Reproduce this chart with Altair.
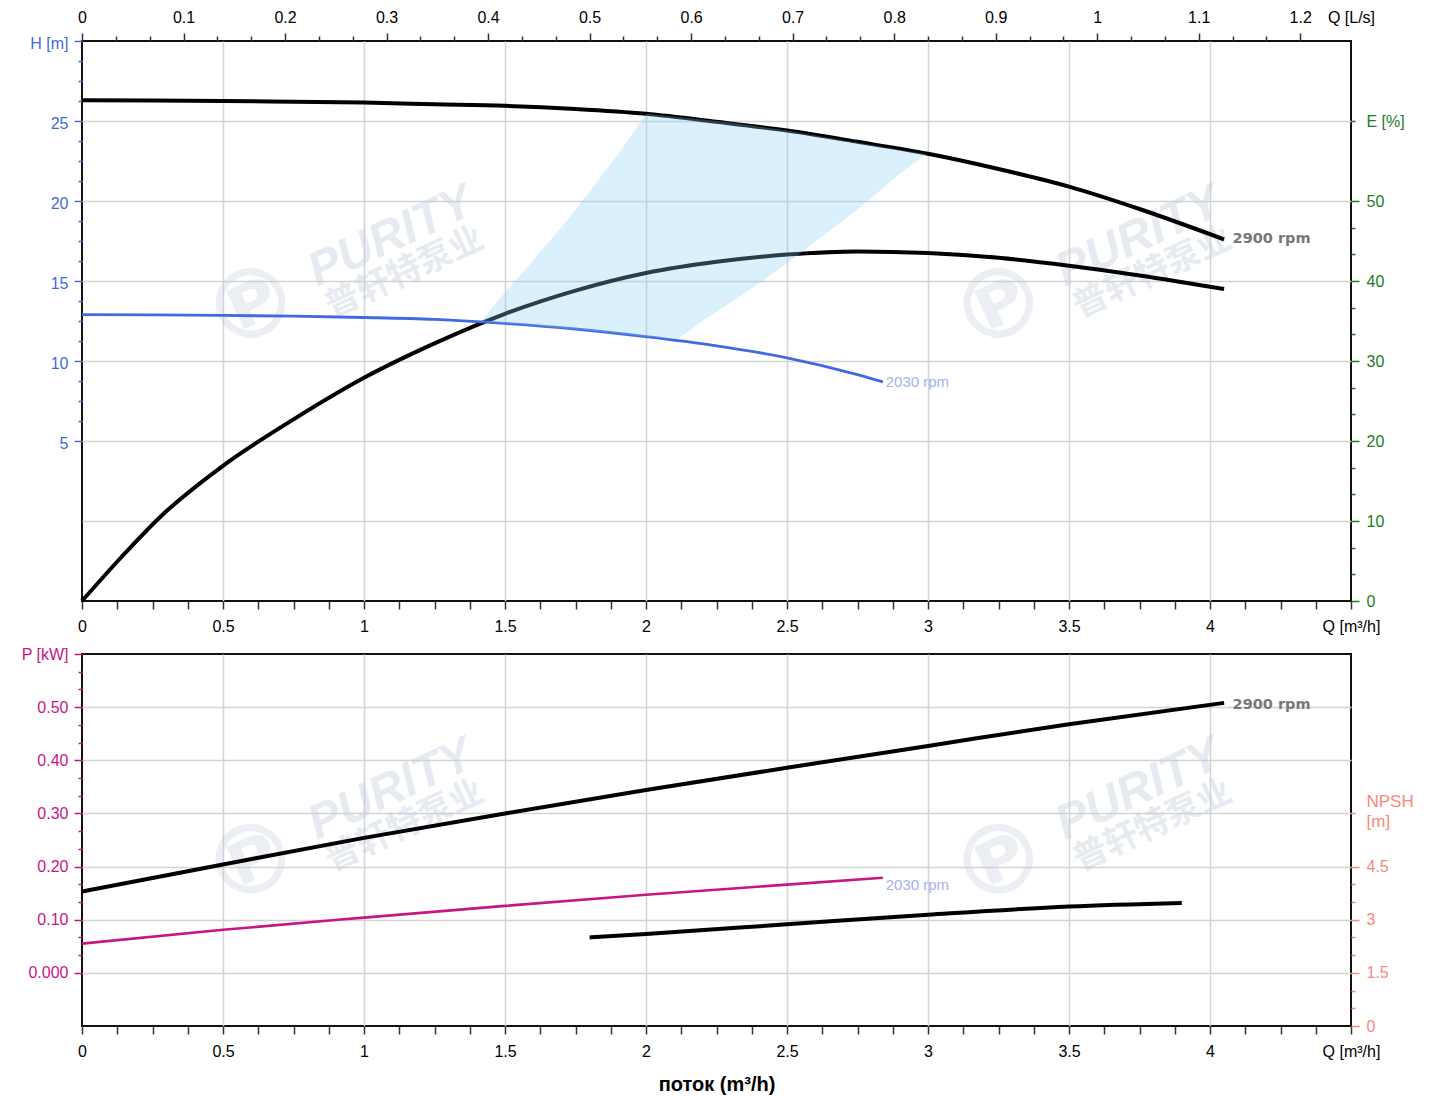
import altair as alt
import pandas as pd

# ---------------- values ----------------
# head curves, H [m] against Q [m3/h]
q_h2900 = [0, 0.25, 0.5, 0.75, 1.0, 1.25, 1.5, 1.75, 2.0, 2.25, 2.5, 2.75, 3.0, 3.25, 3.5, 3.75, 4.05]
h_2900 = [26.3, 26.28, 26.25, 26.2, 26.15, 26.05, 25.95, 25.75, 25.45, 24.95, 24.4, 23.7, 22.95, 22.0, 20.9, 19.5, 17.6]

q_h2030 = [0, 0.25, 0.5, 0.75, 1.0, 1.25, 1.5, 1.75, 2.0, 2.25, 2.5, 2.75, 2.84]
h_2030 = [12.9, 12.88, 12.85, 12.8, 12.72, 12.6, 12.35, 12.0, 11.52, 10.95, 10.2, 9.15, 8.7]

# efficiency E [%]
q_eff = [0, 0.14, 0.28, 0.5, 0.75, 1.0, 1.25, 1.5, 1.75, 2.0, 2.25, 2.5, 2.75, 3.0, 3.25, 3.5, 3.75, 4.05]
eff = [0, 5.5, 10.6, 16.9, 22.7, 27.9, 32.2, 35.9, 38.8, 41.0, 42.4, 43.3, 43.7, 43.5, 42.9, 41.9, 40.7, 39.0]

# shaded operating range (upper / lower edge, H [m])
area_q = [1.415, 1.5, 1.6, 1.7, 1.8, 1.9, 2.0, 2.112, 2.2, 2.3, 2.4, 2.5, 2.6, 2.7, 2.8, 2.9, 2.993]
area_hi = [12.5, 14.3, 16.3, 18.35, 20.6, 22.9, 25.45, 25.25, 25.1, 24.9, 24.65, 24.4, 24.1, 23.8, 23.5, 23.2, 22.92]
area_lo = [12.5, 12.35, 12.22, 12.06, 11.9, 11.72, 11.52, 11.36, 12.5, 13.65, 14.85, 16.1, 17.45, 18.8, 20.2, 21.7, 22.92]

# power P [kW]
q_p2900 = [0, 0.5, 1.0, 1.5, 2.0, 2.5, 3.0, 3.5, 4.05]
p_2900 = [0.153, 0.204, 0.254, 0.300, 0.344, 0.386, 0.427, 0.468, 0.508]
q_p2030 = [0, 0.5, 1.0, 1.5, 2.0, 2.5, 2.84]
p_2030 = [0.055, 0.081, 0.104, 0.126, 0.147, 0.166, 0.179]

# NPSH [m]
q_npsh = [1.8, 2.0, 2.5, 3.0, 3.5, 3.9]
npsh = [2.5, 2.6, 2.87, 3.14, 3.37, 3.47]

# curve labels
lab_top_q = [4.08, 2.85]
lab_top_v = [17.6, 8.7]
lab_bot_q = [4.08, 2.85]
lab_bot_v = [0.504, 0.166]
lab_text = ["2900 rpm", "2030 rpm"]

# watermark
wm_text = ["PURITY", "普轩特泵业", "℗"]
wm_top_q = [[1.096, 3.748], [1.145, 3.797], [0.606, 3.258]]
wm_top_v = [[17.75, 17.75], [15.5, 15.5], [13.3, 13.3]]
wm_bot_v = [[0.344, 0.344], [0.276, 0.276], [0.205, 0.205]]

# axis tick labels
x_major = [0, 0.5, 1, 1.5, 2, 2.5, 3, 3.5, 4, 4.5]
ls_major = [0, 0.1, 0.2, 0.3, 0.4, 0.5, 0.6, 0.7, 0.8, 0.9, 1.0, 1.1, 1.2]
h_major = [5, 10, 15, 20, 25, 30]
e_major = [0, 10, 20, 30, 40, 50]
p_major = [0, 0.1, 0.2, 0.3, 0.4, 0.5, 0.6]
n_major = [0, 1.5, 3, 4.5]

# ---------------- styling ----------------
FONT = "Liberation Sans"
BLUE = "#4169e1"
GREEN = "#1e7d1e"
MAG = "#c71585"
SAL = "#f8877c"
GRID = "#d3d3d3"
TICK = "#333333"

W, H_TOP, H_BOT = 1269, 560, 372
H_DOM, E_DOM, P_DOM, N_DOM = [-5, 30], [0, 70], [-0.1, 0.6], [0, 10.5]
XS = alt.Scale(domain=[0, 4.5], nice=False, zero=False)


def ysc(dom):
    return alt.Scale(domain=dom, nice=False, zero=False)


def ax(orient, values, size=8, color=TICK, lab_color="black", expr=None,
       labels=True, ticks=True, grid=False, pad=6, tick_op=1.0, ext=0, fmt=".1~f", **kw):
    d = dict(orient=orient, values=values, domain=False, grid=grid, ticks=ticks,
             labels=labels, tickSize=size, tickColor=color, tickWidth=1.5,
             tickOpacity=tick_op, labelFont=FONT, labelFontSize=16,
             labelColor=lab_color, labelPadding=pad, labelFlush=False,
             labelOverlap=False, gridColor=GRID, gridWidth=1.5, format=fmt,
             minExtent=ext)
    if expr is not None:
        d["labelExpr"] = expr
    if "title" not in kw:
        d["title"] = None
    d.update(kw)
    return alt.Axis(**d)


dummy = pd.DataFrame({"q": [0.0], "v": [0.0]})


def axis_layer(xaxis, yaxis, ydom):
    return alt.Chart(dummy).mark_point(opacity=0).encode(
        x=alt.X("q:Q", scale=XS, axis=xaxis),
        y=alt.Y("v:Q", scale=ysc(ydom), axis=yaxis),
    )


def line(q, v, dom, color, width):
    df = pd.DataFrame({"q": q, "v": v})
    return alt.Chart(df).mark_line(color=color, strokeWidth=width, interpolate="monotone").encode(
        x=alt.X("q:Q", scale=XS, axis=None),
        y=alt.Y("v:Q", scale=ysc(dom), axis=None),
    )


def text_layer(q, v, texts, dom, **mark):
    df = pd.DataFrame({"q": q, "v": v, "t": texts})
    return alt.Chart(df).mark_text(**mark).encode(
        x=alt.X("q:Q", scale=XS, axis=None),
        y=alt.Y("v:Q", scale=ysc(dom), axis=None),
        text="t:N",
    )


def watermark(qs, vs, dom):
    a = text_layer(qs[0], vs[0], [wm_text[0]] * 2, dom, font=FONT, fontSize=48,
                   fontWeight="bold", fontStyle="italic", angle=335, color="#c3cee0",
                   opacity=0.4, align="center", baseline="middle")
    b = text_layer(qs[1], vs[1], [wm_text[1]] * 2, dom, font="Noto Sans CJK SC",
                   fontSize=34, fontWeight="bold", angle=335, color="#c3cee0",
                   opacity=0.4, align="center", baseline="middle")
    c = text_layer(qs[2], vs[2], [wm_text[2]] * 2, dom, font="DejaVu Sans",
                   fontSize=96, fontWeight="bold", angle=335, color="#c3cee0",
                   opacity=0.32, align="center", baseline="middle")
    return [a, b, c]


# tick position lists (axis configuration)
x_minor = [round(k * 0.125, 4) for k in range(37) if k % 4 != 0]
x_grid = [0.5, 1, 1.5, 2, 2.5, 3, 3.5, 4]
ls_major_pos = [round(v * 3.6, 6) for v in ls_major]
ls_minor_pos = [round(k * 0.12, 6) for k in range(37) if k % 3 != 0]
h_minor = [round(5 + k * 1.25, 4) for k in range(21) if k % 4 != 0]
h_grid = [0, 5, 10, 15, 20, 25]
e_minor = [round(k * 10 / 3, 4) for k in range(16) if k % 3 != 0] + [60]
p_minor = [round(k / 30, 5) for k in range(19) if k % 3 != 0]
p_grid = [0, 0.1, 0.2, 0.3, 0.4, 0.5]
n_minor = [0.5, 1.0, 2.0, 2.5, 3.5, 4.0, 6]

LEFT_EXT = 68

# ---------------- top panel ----------------
top_layers = watermark(wm_top_q, wm_top_v, H_DOM) + [
    line(q_eff, eff, E_DOM, "black", 4),
    line(q_h2900, h_2900, H_DOM, "black", 4),
    line(q_h2030, h_2030, H_DOM, BLUE, 2.8),
    alt.Chart(pd.DataFrame({"q": area_q, "hi": area_hi, "lo": area_lo})).mark_area(
        color="#87cefa", opacity=0.3).encode(
        x=alt.X("q:Q", scale=XS, axis=None),
        y=alt.Y("hi:Q", scale=ysc(H_DOM), axis=None),
        y2="lo:Q"),
    text_layer(lab_top_q[:1], lab_top_v[:1], lab_text[:1], H_DOM, font="DejaVu Sans",
               fontSize=14.5, fontWeight="bold", color="#777777", align="left", baseline="middle"),
    text_layer(lab_top_q[1:], lab_top_v[1:], lab_text[1:], H_DOM, font=FONT,
               fontSize=15, color="#a3b1f0", align="left", baseline="middle"),
    axis_layer(ax("bottom", x_major, pad=9, expr="datum.value == 4.5 ? 'Q [m³/h]' : datum.label"),
               ax("left", h_major, color=BLUE, lab_color=BLUE, ext=LEFT_EXT, fmt=".0f",
                  labelOffset=2, expr="datum.value == 30 ? 'H [m]' : datum.label"), H_DOM),
    axis_layer(ax("bottom", x_minor, labels=False),
               ax("left", h_minor, size=4, color=BLUE, labels=False, ext=LEFT_EXT), H_DOM),
    axis_layer(ax("bottom", x_grid, labels=False, ticks=False, grid=True),
               ax("left", h_grid, labels=False, ticks=False, grid=True, ext=LEFT_EXT), H_DOM),
    axis_layer(ax("top", ls_major_pos, pad=8, expr="format(datum.value / 3.6, '~g')"),
               ax("right", e_major, color=GREEN, lab_color=GREEN, pad=7, fmt=".0f"), E_DOM),
    axis_layer(ax("top", ls_minor_pos, size=5, labels=False),
               ax("right", e_minor, size=4, color=GREEN, labels=False), E_DOM),
    axis_layer(ax("top", [4.5], tick_op=0, pad=8, expr="'Q [L/s]'"),
               ax("right", [60], tick_op=0, color=GREEN, lab_color=GREEN, pad=7,
                  expr="'E [%]'"), E_DOM),
]
top = alt.layer(*top_layers).resolve_scale(y="independent").resolve_axis(
    x="independent", y="independent").properties(width=W, height=H_TOP)

# ---------------- bottom panel ----------------
bot_layers = watermark(wm_top_q, wm_bot_v, P_DOM) + [
    line(q_p2900, p_2900, P_DOM, "black", 4),
    line(q_p2030, p_2030, P_DOM, MAG, 2.6),
    line(q_npsh, npsh, N_DOM, "black", 4),
    text_layer(lab_bot_q[:1], lab_bot_v[:1], lab_text[:1], P_DOM, font="DejaVu Sans",
               fontSize=14.5, fontWeight="bold", color="#777777", align="left", baseline="middle"),
    text_layer(lab_bot_q[1:], lab_bot_v[1:], lab_text[1:], P_DOM, font=FONT,
               fontSize=15, color="#a3b1f0", align="left", baseline="middle"),
    axis_layer(ax("bottom", x_major, pad=9, expr="datum.value == 4.5 ? 'Q [m³/h]' : datum.label",
                  title="поток (m³/h)", titleFont=FONT, titleFontSize=20, titleFontWeight="bold",
                  titleColor="black", titlePadding=15),
               ax("left", p_major, color=MAG, lab_color=MAG, ext=LEFT_EXT,
                  expr="datum.value == 0 ? '0.000' : (datum.value > 0.55 ? 'P [kW]' : format(datum.value, '.2f'))"),
               P_DOM),
    axis_layer(ax("bottom", x_minor, labels=False),
               ax("left", p_minor, size=4, color=MAG, labels=False, ext=LEFT_EXT), P_DOM),
    axis_layer(ax("bottom", x_grid, labels=False, ticks=False, grid=True),
               ax("left", p_grid, labels=False, ticks=False, grid=True, ext=LEFT_EXT), P_DOM),
    axis_layer(None, ax("right", n_major, color=SAL, lab_color=SAL, pad=7), N_DOM),
    axis_layer(None, ax("right", n_minor, size=4, color=SAL, labels=False), N_DOM),
    axis_layer(None, ax("right", [6], tick_op=0, color=SAL, lab_color=SAL, pad=7,
                        labelFontSize=17, labelLineHeight=20, labelOffset=-12,
                        expr="['NPSH', '[m]']"), N_DOM),
]
bottom = alt.layer(*bot_layers).resolve_scale(y="independent").resolve_axis(
    x="independent", y="independent").properties(width=W, height=H_BOT)

chart = alt.vconcat(top, bottom, spacing=53, bounds="flush").properties(
    padding={"left": 5, "top": 0, "right": 10, "bottom": 4}
).configure_view(stroke="#111111", strokeWidth=2)

chart.save("out.html", embed_options={"renderer": "svg", "actions": False})
